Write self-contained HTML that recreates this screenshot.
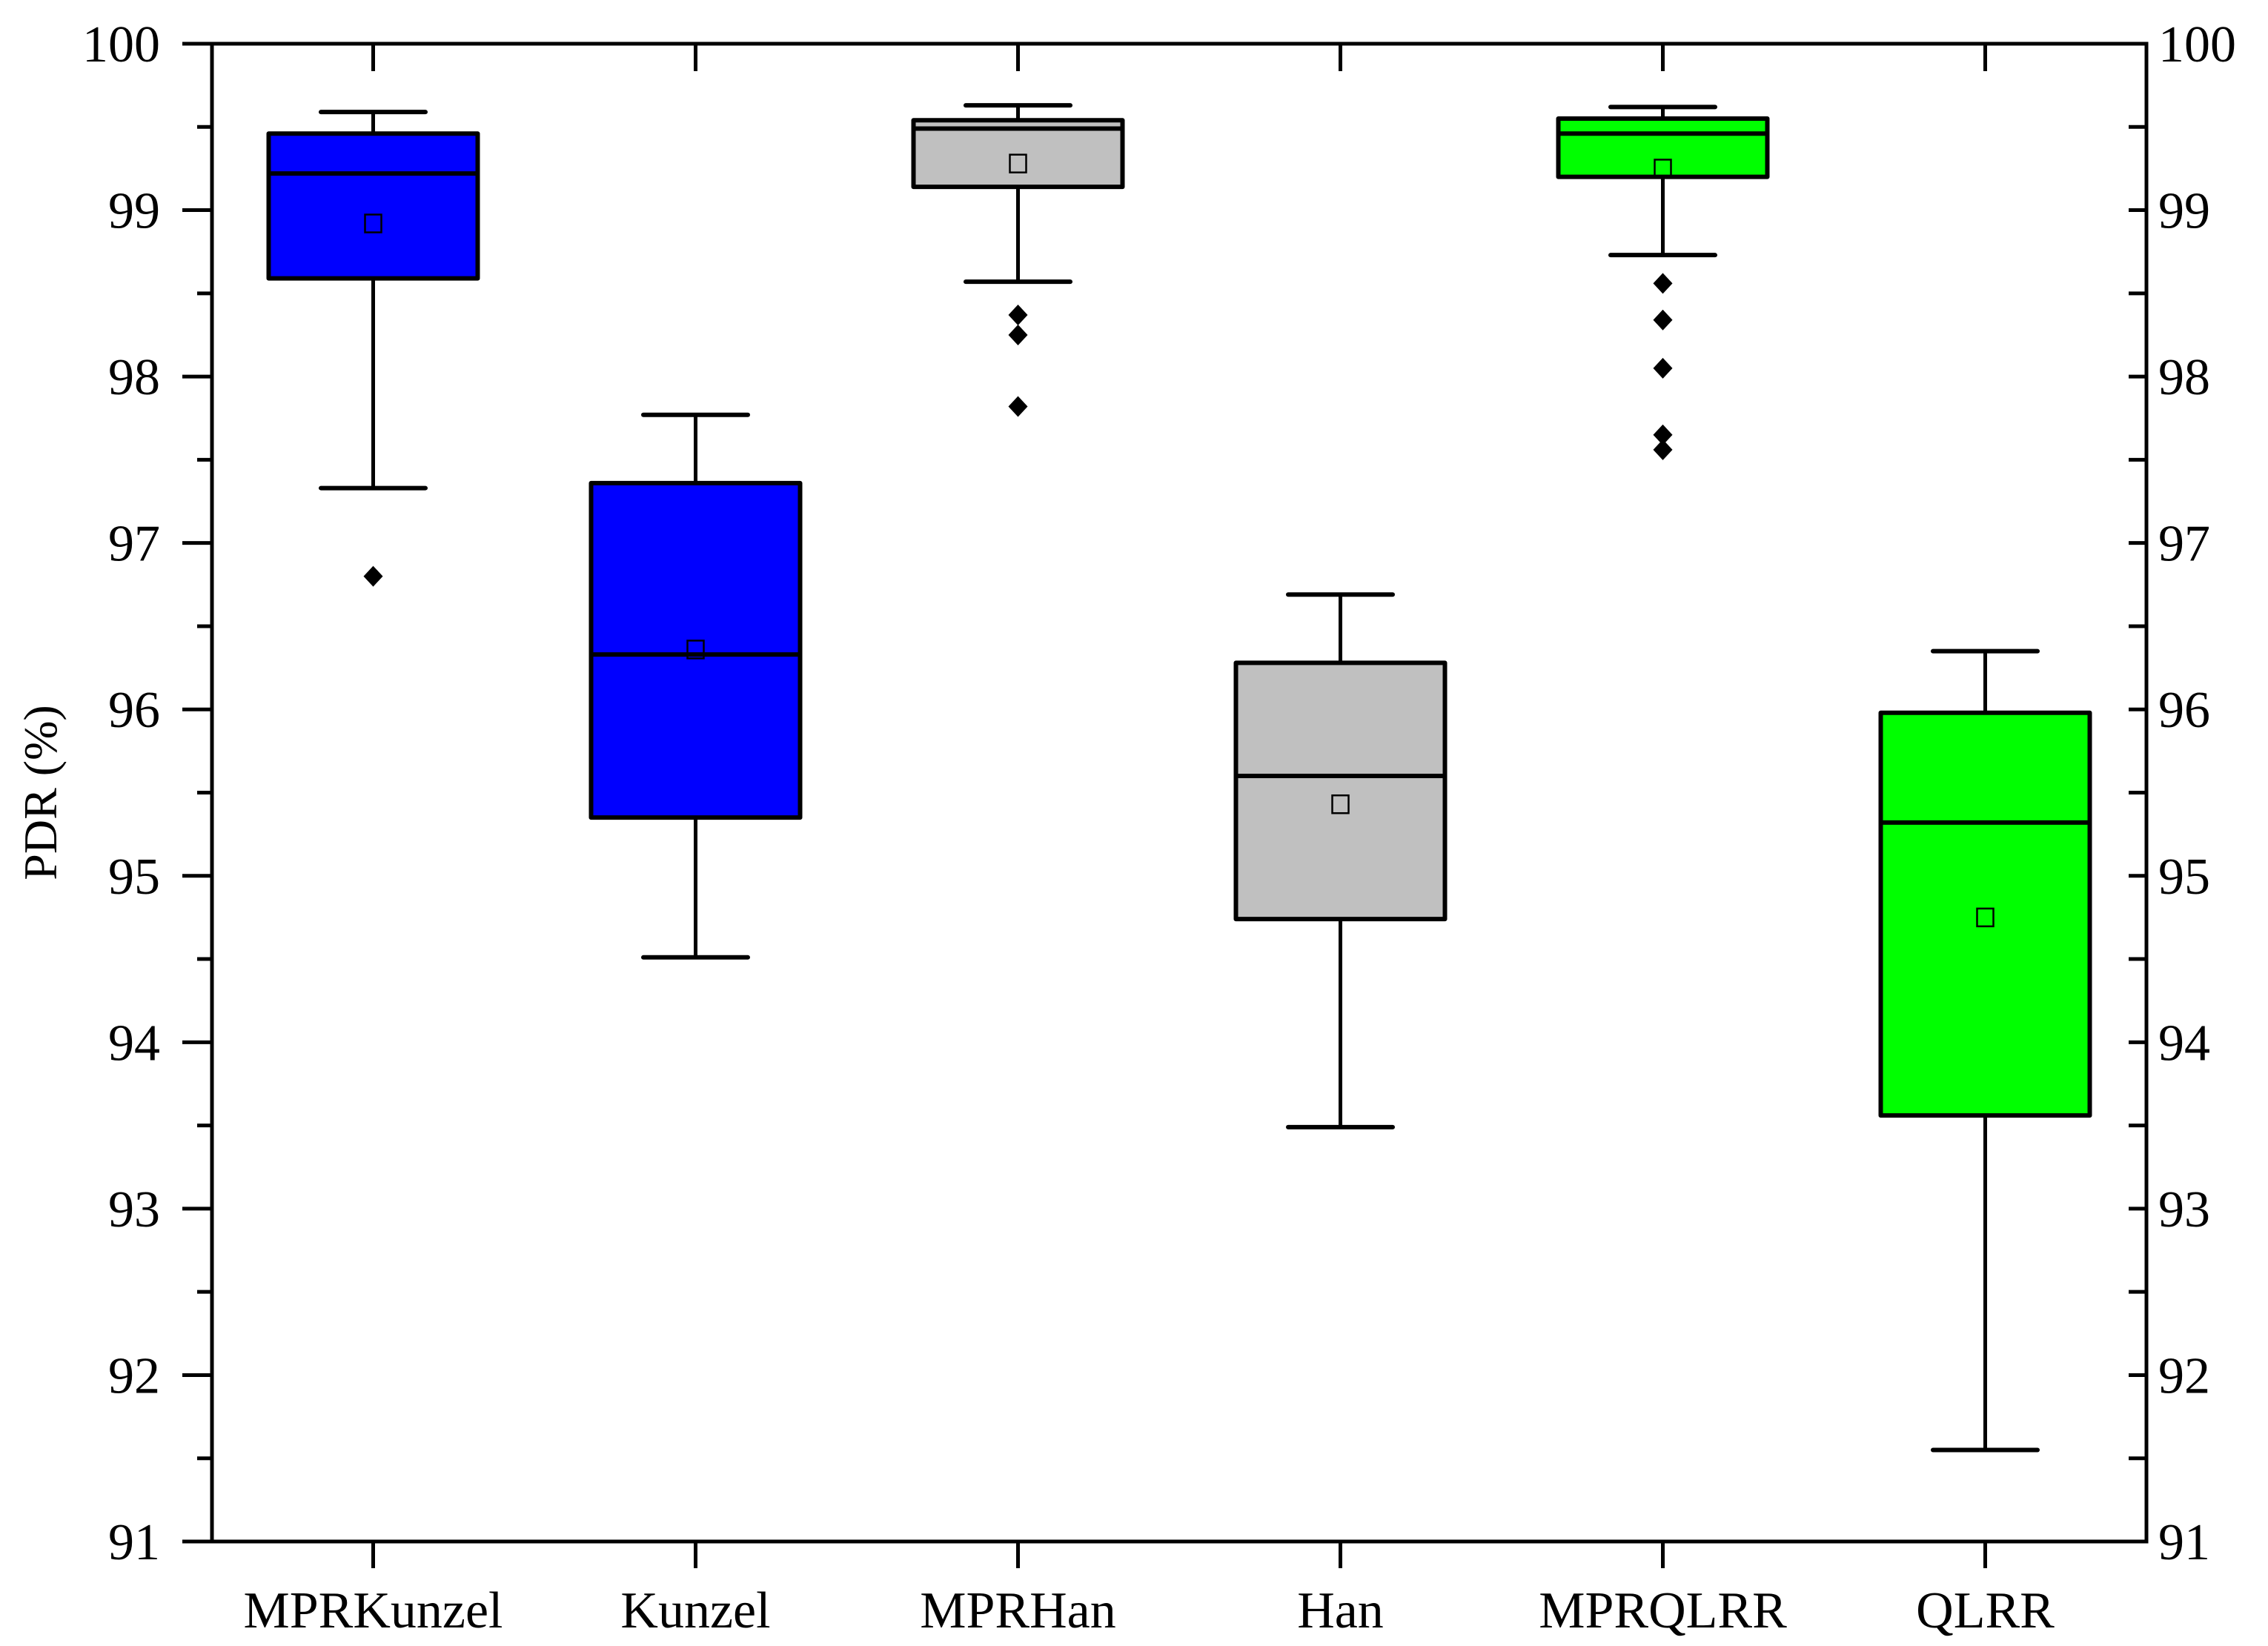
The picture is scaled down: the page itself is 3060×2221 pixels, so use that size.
<!DOCTYPE html>
<html><head><meta charset="utf-8"><style>
html,body{margin:0;padding:0;background:#fff;}
svg text{font-family:"Liberation Serif",serif;fill:#000;}
</style></head><body>
<svg id="chart" width="3060" height="2216" viewBox="0 0 3060 2216" xmlns="http://www.w3.org/2000/svg">
<g id="marks"></g>
<g id="axes"></g>
</svg>
<script>
const categories = ["MPRKunzel","Kunzel","MPRHan","Han","MPRQLRR","QLRR"];
const whiskerLow = [97.33, 94.51, 98.57, 93.49, 98.73, 91.55];
const q1Values = [98.59, 95.35, 99.14, 94.74, 99.20, 93.56];
const medianValues = [99.22, 96.33, 99.49, 95.60, 99.46, 95.32];
const q3Values = [99.46, 97.36, 99.54, 96.28, 99.55, 95.98];
const whiskerHigh = [99.59, 97.77, 99.63, 96.69, 99.62, 96.35];
const meanValues = [98.92, 96.36, 99.28, 95.43, 99.25, 94.75];
const outlierValues = [[96.80], [], [98.37, 98.25, 97.82], [], [98.56, 98.34, 98.05, 97.65, 97.56], []];
const boxColors = ["#0000ff","#0000ff","#c0c0c0","#c0c0c0","#00ff00","#00ff00"];
const yTicks = [91,92,93,94,95,96,97,98,99,100];

const L=286,R=2896,T=59,B=2080,yMin=91,yMax=100;
const NS="http://www.w3.org/2000/svg";
function y(v){return B-(v-yMin)/(yMax-yMin)*(B-T);}
function x(i){return L+(i+0.5)*(R-L)/categories.length;}
function mk(tag,attrs,parent){const e=document.createElementNS(NS,tag);for(const k in attrs)e.setAttribute(k,attrs[k]);parent.appendChild(e);return e;}
const marks=document.getElementById('marks'), axes=document.getElementById('axes');
const boxW=282, capW=141;
categories.forEach((c,i)=>{
  const cx=x(i);
  const g=mk('g',{},marks);
  
  
  const w1=mk('line',{x1:cx,x2:cx,y1:y(whiskerLow[i]),y2:y(q1Values[i]),stroke:'#000','stroke-width':5},g);
  
  
  const w2=mk('line',{x1:cx,x2:cx,y1:y(whiskerHigh[i]),y2:y(q3Values[i]),stroke:'#000','stroke-width':5},g);
  
  
  const c1=mk('line',{x1:cx-capW/2,x2:cx+capW/2,y1:y(whiskerLow[i]),y2:y(whiskerLow[i]),stroke:'#000','stroke-width':6,'stroke-linecap':'round'},g);
  
  
  const c2=mk('line',{x1:cx-capW/2,x2:cx+capW/2,y1:y(whiskerHigh[i]),y2:y(whiskerHigh[i]),stroke:'#000','stroke-width':6,'stroke-linecap':'round'},g);
  
  
  const r=mk('rect',{x:cx-boxW/2,y:y(q3Values[i]),width:boxW,height:y(q1Values[i])-y(q3Values[i]),fill:boxColors[i],stroke:'#000','stroke-width':6,'stroke-linejoin':'round'},g);
  
  
  const m=mk('line',{x1:cx-boxW/2,x2:cx+boxW/2,y1:y(medianValues[i]),y2:y(medianValues[i]),stroke:'#000','stroke-width':6},g);
  
  
  const mn=mk('rect',{x:cx-11,y:y(meanValues[i])-12,width:22,height:24,fill:'none',stroke:'#000','stroke-width':2.5},g);
  
  
  outlierValues[i].forEach(v=>{
    const oy=y(v);
    const o=mk('polygon',{points:`${cx},${oy-14} ${cx+13},${oy} ${cx},${oy+14} ${cx-13},${oy}`,fill:'#000'},g);
    
    
  });
  const tk=mk('line',{x1:cx,x2:cx,y1:B,y2:B+36,stroke:'#000','stroke-width':5},axes);
  
  
  const tt=mk('line',{x1:cx,x2:cx,y1:T,y2:T+37,stroke:'#000','stroke-width':5},axes);
  
  
  const lb=mk('text',{x:cx,y:2196,'font-size':70,'text-anchor':'middle'},axes);
  lb.textContent=c;
  
  
});
const frame=mk('rect',{x:L,y:T,width:R-L,height:B-T,fill:'none',stroke:'#000','stroke-width':5},axes);


yTicks.forEach((v,k)=>{
  const ty=y(v);
  const t=mk('line',{x1:L-40,x2:L,y1:ty,y2:ty,stroke:'#000','stroke-width':5},axes);
  
  
  const tr=mk('line',{x1:R-24,x2:R,y1:ty,y2:ty,stroke:'#000','stroke-width':5},axes);
  
  
  if(k<yTicks.length-1){
    const my=y(v+0.5);
    const mt=mk('line',{x1:L-20,x2:L,y1:my,y2:my,stroke:'#000','stroke-width':5},axes);
    
    
    const mr=mk('line',{x1:R-24,x2:R,y1:my,y2:my,stroke:'#000','stroke-width':5},axes);
    
    
  }
  const lt=mk('text',{x:216,y:ty+24,'font-size':70,'text-anchor':'end'},axes);
  lt.textContent=v;
  
  
  const rt=mk('text',{x:2912,y:ty+24,'font-size':70,'text-anchor':'start'},axes);
  rt.textContent=v;
  
  
});
const yt=mk('text',{x:0,y:0,'font-size':64,'text-anchor':'middle',transform:`translate(76,${(T+B)/2}) rotate(-90)`},axes);
yt.textContent='PDR (%)';


</script>
</body></html>
